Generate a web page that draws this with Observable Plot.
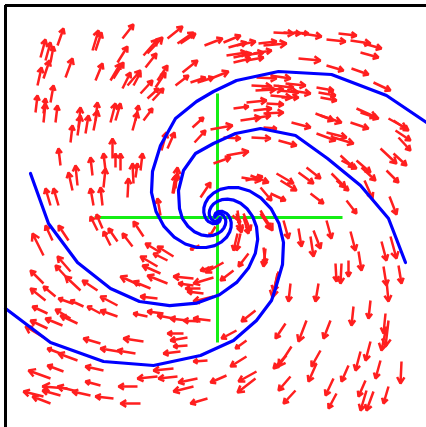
<!DOCTYPE html>
<html><head><meta charset="utf-8">
<script src="https://cdn.jsdelivr.net/npm/d3@7"></script>
<script src="https://cdn.jsdelivr.net/npm/@observablehq/plot@0.6"></script>
<style>html,body{margin:0;padding:0;background:#fff;} svg{display:block;}</style>
</head><body><div id="chart"></div>
<script>
// quiver arrows: tail position (x, y) and vector (u, v), centre of the spiral at (0, 0)
const arrowX = [-160,-125,-122,-95,-50,-40,-37,-177,-172,-167,-180,-174,-152,-122,-107,-104,-100,-74,-70,-72,-35,-95,-90,-84,-60,-62,-42,-77,-70,-65,-27,-20,-167,-182,-174,-174,-162,-147,-140,-139,-132,-124,-122,-107,-102,-85,-82,-74,-56,-50,-23,-25,-157,-125,-112,-105,-102,-97,-84,-82,-77,-114,-145,-140,-124,-115,-90,-167,-159,-45,-42,-17,
-13,6,11,19,41,46,56,66,76,84,121,109,133,146,143,9,16,26,36,16,29,81,109,134,-9,156,34,38,44,56,61,68,73,53,64,99,101,103,39,53,29,16,36,49,23,36,46,139,143,98,103,133,171,176,74,-7,46,6,34,61,99,109,116,178,181,-4,9,24,33,59,63,81,89,123,124,139,144,163,176,114,119,147,169,43,53,93,129,172,
-174,-165,-149,-107,-100,-85,-74,-120,-115,-57,-44,-50,-60,-57,-50,-147,-150,-174,-137,-120,-162,-172,-77,-67,-24,-24,-17,-14,-4,-145,-134,-100,-60,-4,-170,-147,-140,-117,-100,-170,-155,-172,-54,-44,-30,-17,-7,-70,-30,-34,-74,-117,-140,-157,-82,-99,-30,-37,-10,-154,-167,-114,-44,-60,-40,-117,-150,-140,-127,-157,-167,-174,-104,-80,-77,-24,-10,-20,
19,26,43,66,81,93,96,109,133,141,164,173,181,166,169,48,31,23,16,118,124,131,101,73,61,153,136,168,171,113,89,68,38,19,29,74,69,103,99,29,39,38,73,78,116,131,143,153,163,148,119,149,156,171,184,169,9,
-44,20,26,43,46,20,60,6,-4,15,-2,-18,28,-57];
const arrowY = [172,167,167,179,179,174,174,160,157,155,132,139,140,137,137,139,155,162,164,150,145,129,132,132,137,130,132,124,119,117,135,135,115,105,104,95,95,75,82,90,84,87,97,95,97,87,97,97,67,69,75,90,52,42,47,59,50,47,34,40,47,30,27,32,12,12,20,12,12,24,29,20,
172,175,170,172,174,172,185,185,185,184,184,178,177,174,165,162,160,162,164,155,157,159,152,149,138,135,132,127,129,132,127,134,127,122,120,130,125,120,140,142,115,109,107,114,97,99,104,109,105,104,102,95,99,97,95,88,90,80,80,77,84,85,80,87,80,54,62,40,42,44,37,45,50,62,57,57,50,69,64,44,37,37,47,30,24,24,17,21,
-38,-23,-23,-28,-24,-29,-19,-13,-11,-35,-39,-43,-49,-56,-66,-54,-61,-66,-73,-73,-79,-83,-68,-71,-61,-68,-71,-76,-49,-86,-89,-88,-81,-79,-96,-101,-106,-96,-99,-111,-108,-121,-96,-101,-103,-104,-103,-99,-120,-116,-124,-126,-143,-136,-136,-134,-128,-134,-143,-154,-161,-153,-151,-159,-159,-168,-171,-174,-178,-178,-186,-179,-181,-169,-186,-169,-181,-161,
4,4,4,-3,-11,-19,-13,-3,-14,-34,-24,-19,-48,-49,-63,-31,-36,-16,-53,-46,-46,-43,-66,-66,-54,-83,-89,-96,-103,-103,-103,-106,-93,-113,-123,-129,-138,-133,-146,-139,-154,-161,-159,-173,-161,-148,-134,-124,-143,-163,-176,-173,-174,-169,-144,-109,-158,
24,7,0,7,-30,-16,-56,-45,-60,2,-9,-28,37,2];
const arrowU = [6,6,6,11,15,16,15,5,5,3,4,6,7,7,10,10,10,14,15,11,15,8,13,7,10,10,13,12,11,11,15,16,3,2,2,2,2,2,3,2,3,4,2,5,5,5,3,9,5,7,11,11,-2,-2,-2,0,0,0,-1,2,2,2,-4,-2,-3,-2,1,-5,-5,3,2,10,
18,17,18,19,18,23,20,17,15,20,18,19,20,18,18,20,18,20,18,17,17,22,17,17,20,17,20,20,22,20,20,20,20,21,17,17,17,16,20,20,20,15,18,17,20,17,20,20,18,18,21,18,18,15,19,22,13,17,19,18,19,20,20,15,12,17,22,19,18,17,16,15,14,13,15,14,14,16,13,14,12,8,12,11,15,13,10,7,
-11,-7,-10,-7,-9,-10,-10,-7,-6,-15,-16,-14,-17,-18,-20,-13,-12,-13,-15,-15,-12,-15,-20,-17,-20,-15,-15,-16,-13,-14,-13,-17,-17,-20,-15,-15,-17,-13,-17,-17,-17,-20,-16,-16,-17,-17,-17,-14,-17,-16,-20,-17,-19,-13,-18,-18,-14,-17,-14,-16,-22,-18,-20,-20,-19,-15,-25,-20,-18,-18,-18,-20,-18,-19,-20,-20,-17,-19,
5,7,10,5,3,3,7,5,5,3,5,6,3,3,2,-2,-10,-4,-13,1,-1,0,-3,-2,-5,-2,-2,-2,-3,-7,-8,-10,-14,-15,-11,-13,-13,-9,-8,-16,-18,-18,-12,-12,-8,-7,-5,-5,-5,-7,-8,-6,-7,-5,-1,-5,-16,
4,3,5,12,2,-4,-5,-18,-20,8,-6,-9,17,-3];
const arrowV = [17,20,18,14,12,11,10,18,18,16,18,18,19,17,17,16,16,16,16,14,12,16,15,13,15,15,10,13,10,12,5,5,17,17,15,19,17,17,20,20,18,20,18,19,17,18,15,12,18,16,12,10,17,18,17,20,14,17,20,14,17,19,18,20,17,18,19,17,17,18,21,15,
7,7,5,4,2,2,-1,-1,-1,-3,-2,-2,-3,-5,-5,3,4,3,3,4,3,-2,-5,-6,8,-8,-1,1,-1,-2,-2,-2,-3,-2,0,-3,-3,-3,-1,-3,2,2,2,-1,3,3,1,-9,-6,-7,-7,-6,-10,-10,-5,4,-1,-1,-1,-5,-7,-5,-6,-10,-13,6,4,-3,-7,-10,-10,-11,-11,-12,-8,-12,-13,-15,-12,-14,-10,-18,-12,-13,-7,-10,-13,-18,
22,15,15,14,13,13,15,14,14,9,10,7,10,8,8,15,13,13,14,10,10,12,9,7,2,2,0,2,-4,5,6,9,2,-5,7,9,8,7,6,8,7,12,2,3,2,1,2,3,-3,0,3,5,7,5,3,3,-1,-2,-1,6,8,4,-2,-2,-2,4,2,5,4,5,7,5,2,0,0,-5,-5,-4,
-19,-17,-15,-18,-18,-20,-18,-18,-19,-19,-19,-22,-18,-19,-21,-18,-13,-17,-10,-18,-20,-16,-18,-18,-20,-18,-19,-20,-26,-18,-21,-15,-11,-8,-8,-20,-13,-16,-18,-10,-10,-14,-14,-13,-17,-16,-19,-19,-18,-16,-15,-20,-19,-17,-22,-24,-7,
20,-20,-16,-20,-16,-17,-24,-10,-6,-7,-10,-4,4,17];

// spiral arms (two pairs, each pair point-symmetric about the centre)
const armA  = [[209,95],[169,122],[114,143],[61,146],[19,137],[-4,126],[-21,116],[-42,99],[-57,72],[-65,46],[-66,25],[-61.5,6],[-53.5,-8.9],[-43.3,-19.7],[-32.2,-26.5],[-21.3,-29.8],[-11.3,-30],[-2.8,-28.1],[4,-24.4],[9,-19.8],[12.1,-14.7],[13.6,-9.7],[13.7,-5.1],[12.7,-1.2],[11.1,1.8],[9,4.1],[4.4,6.2],[0.6,5.9],[-1.9,4.1],[-2.8,2],[-2.7,0.3]];
const armA2 = [[-212,-91],[-167,-125],[-114,-144],[-64,-148],[-17,-138],[16,-123],[39,-103],[54,-83],[58,-71],[65,-47],[66,-25],[61.5,-6],[53.5,8.9],[43.3,19.7],[32.2,26.5],[21.3,29.8],[11.3,30],[2.8,28.1],[-4,24.4],[-9,19.8],[-12.1,14.7],[-13.6,9.7],[-13.7,5.1],[-12.7,1.2],[-11.1,-1.8],[-9,-4.1],[-4.4,-6.2],[-0.6,-5.9],[1.9,-4.1],[2.8,-2],[2.7,-0.3]];
const armB  = [[188,-45],[171,-1],[143,32],[110,59],[78,82],[43,89],[18,84],[-4,74],[-22,64],[-34,47],[-39,27],[-38,9],[-35.2,-0.9],[-29.6,-8.8],[-23.1,-14.2],[-16.4,-17.3],[-9.9,-18.3],[-4.3,-17.8],[0.4,-16],[4,-13.5],[6.4,-10.5],[7.8,-7.4],[8.3,-4.5],[8.1,-1.9],[6.1,1.8],[3.4,3.6],[0.9,3.7],[-0.8,2.8],[-1.7,1.6]];
const armB2 = [[-187,44],[-169,-6],[-140,-45],[-107,-71],[-78,-84],[-47.9,-88.1],[-20.5,-85.6],[2,-77.2],[19.2,-64.9],[31,-50.6],[37.8,-35.9],[40.2,-21.8],[39,-9.4],[35.2,0.9],[29.6,8.8],[23.1,14.2],[16.4,17.3],[9.9,18.3],[4.3,17.8],[-0.4,16],[-4,13.5],[-6.4,10.5],[-7.8,7.4],[-8.3,4.5],[-8.1,1.9],[-6.1,-1.8],[-3.4,-3.6],[-0.9,-3.7],[0.8,-2.8],[1.7,-1.6]];

// green cross and the axes limits
const crossH = [-123, 125];
const crossV = [-125, 124];
const xLimits = [-212, 209];
const yLimits = [-210, 212];

const arrows = arrowX.map((x, i) => ({x, y: arrowY[i], u: arrowU[i], v: arrowV[i]}));
const arms = [armA, armA2, armB, armB2];
const cross = [
  {x1: crossH[0], y1: 0, x2: crossH[1], y2: 0},
  {x1: 0, y1: crossV[0], x2: 0, y2: crossV[1]}
];

const chart = Plot.plot({
  width: 426,
  height: 427,
  marginLeft: 5,
  marginRight: 0,
  marginTop: 5,
  marginBottom: 0,
  x: {domain: xLimits, axis: null},
  y: {domain: yLimits, axis: null},
  marks: [
    Plot.link(cross, {x1: "x1", y1: "y1", x2: "x2", y2: "y2", stroke: "#14ee14", strokeWidth: 3}),
    Plot.arrow(arrows, {x1: "x", y1: "y", x2: d => d.x + d.u, y2: d => d.y + d.v,
      stroke: "#ff1f1f", strokeWidth: 2.5, headLength: 7, headAngle: 60, strokeLinecap: "butt", strokeLinejoin: "miter"}),
    ...arms.map(arm => Plot.line(arm, {x: d => d[0], y: d => d[1], stroke: "#0000ff", strokeWidth: 3.2, strokeLinejoin: "round"})),
    Plot.ruleX([xLimits[0]], {stroke: "#000", strokeWidth: 3}),
    Plot.ruleY([yLimits[1]], {stroke: "#000", strokeWidth: 3})
  ]
});
document.getElementById("chart").append(chart);
</script>
</body></html>
